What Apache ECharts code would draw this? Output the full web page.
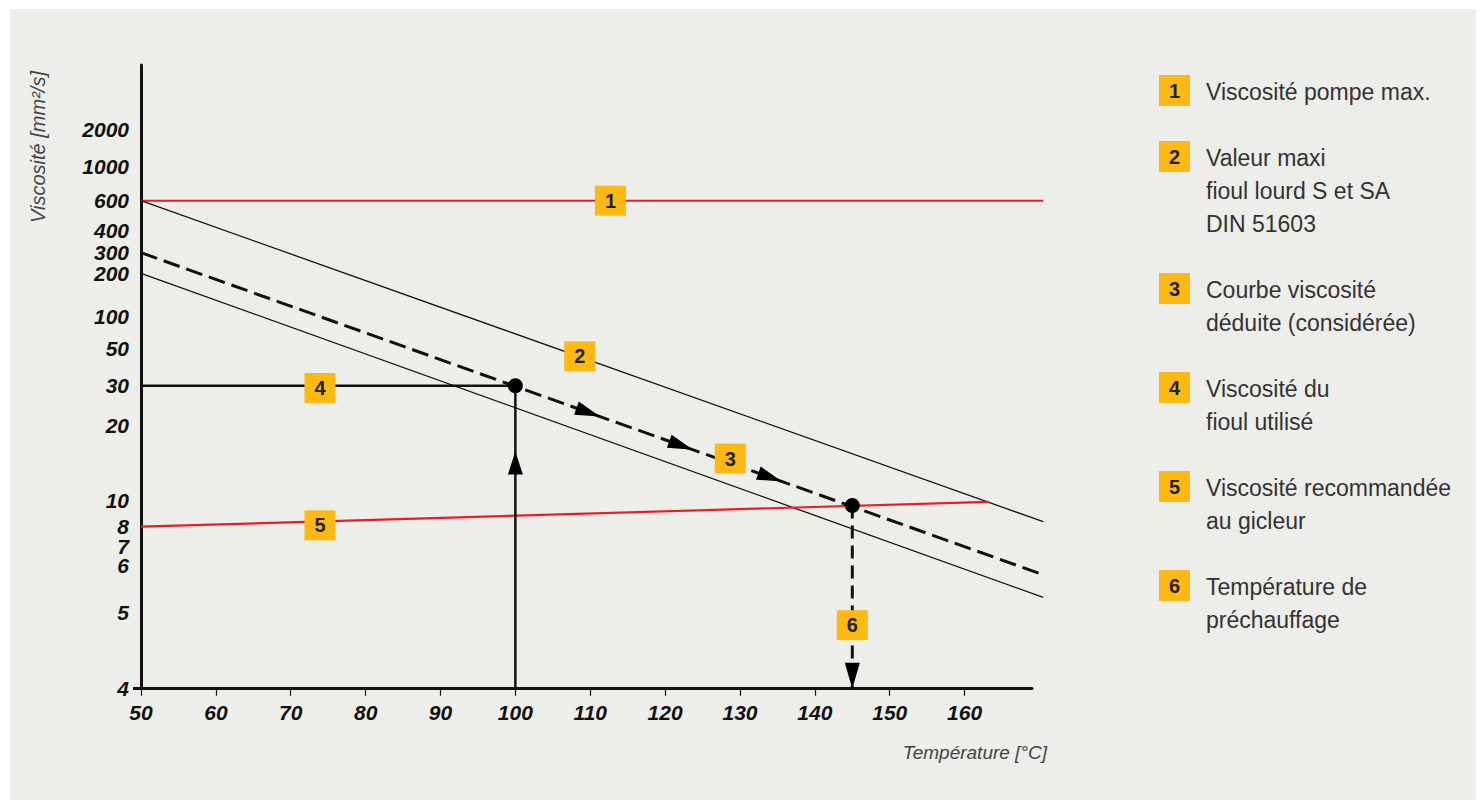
<!DOCTYPE html>
<html><head><meta charset="utf-8">
<script src="https://cdn.jsdelivr.net/npm/echarts@6/dist/echarts.min.js"></script>
<style>
html,body{margin:0;padding:0;background:#fff;width:1483px;height:803px;overflow:hidden}
#panel{position:absolute;left:10px;top:9px;width:1466px;height:791px;background:#EDEDE9}
#chart{position:absolute;left:0;top:0;width:1483px;height:803px}
</style></head><body>
<div id="panel"></div><div id="chart"></div>
<script>
// ---------- DATA ----------
const temperatureTicks = [50, 60, 70, 80, 90, 100, 110, 120, 130, 140, 150, 160];
const viscosityTicks = [4, 5, 6, 7, 8, 10, 20, 30, 50, 100, 200, 300, 400, 600, 1000, 2000];
// printed (irregular) viscosity scale: axis units of each tick label
const viscosityScale = [0, 76, 123.7, 142.7, 162, 188, 263.7, 303, 340.4, 372, 415.4, 436, 458.7, 488, 522.7, 559.7];
const viscosityScaleTop = 623.7;

// 1 pump max viscosity
const pumpMaxTemp = [50, 170.5];
const pumpMaxVisc = [600, 600];
// 2 max value heavy fuel oil
const fuelMaxTemp = [50, 170.5];
const fuelMaxVisc = [600, 8.35];
// lower thin line
const fuelMinTemp = [50, 170.5];
const fuelMinVisc = [200, 5.3];
// 3 deduced viscosity curve
const curve3Temp = [50, 170.5];
const curve3Visc = [300, 5.78];
const curve3ArrowTemps = [111.3, 123.7, 135.6];
// 4 viscosity of fuel used
const usedTemp = [50, 100];
const usedVisc = [30, 30];
const usedVertTemp = [100, 100];
const usedVertVisc = [4, 30];
const upArrowTemp = 100, upArrowVisc = 15.7;
// 5 recommended nozzle viscosity
const nozzleTemp = [50, 163.2];
const nozzleVisc = [8, 9.9];
// 6 preheating temperature
const preheatTemp = [145, 145];
const preheatVisc = [9.6, 4];
const downArrowTemp = 145, downArrowVisc = 4;
// points
const pointTemp = [100, 145];
const pointVisc = [30, 9.6];
// numbered markers
const markerNumbers = ['1', '2', '3', '4', '5', '6'];
const markerTemp = [112.7, 108.6, 128.7, 73.9, 73.9, 145];
const markerVisc = [600, 44.8, 14.7, 29.3, 8.1, 4.82];
// legend
const legendNumbers = ['1', '2', '3', '4', '5', '6'];
const legendTexts = [
  ['Viscosité pompe max.'],
  ['Valeur maxi', 'fioul lourd S et SA', 'DIN 51603'],
  ['Courbe viscosité', 'déduite (considérée)'],
  ['Viscosité du', 'fioul utilisé'],
  ['Viscosité recommandée', 'au gicleur'],
  ['Température de', 'préchauffage']
];
const xAxisName = 'Température [°C]';
const yAxisName = 'Viscosité [mm²/s]';

// ---------- SCALE ----------
function toScale(v) {
  const t = viscosityTicks, s = viscosityScale;
  let i = 0;
  while (i < t.length - 2 && v > t[i + 1]) i++;
  const f = Math.log(v / t[i]) / Math.log(t[i + 1] / t[i]);
  return s[i] + f * (s[i + 1] - s[i]);
}
function pts(xs, vs) { return xs.map((x, i) => [x, toScale(vs[i])]); }

const YELLOW = '#FDB913', RED = '#EC1C24', BLACK = '#111';
const FONT = '"Liberation Sans", Arial, sans-serif';

// straight segment drawn through the cartesian scales (not clipped at axis end)
function segSeries(xs, vs, color, width, dash) {
  return {
    type: 'custom', coordinateSystem: 'cartesian2d', silent: true, clip: false, z: 3,
    data: [[xs[0], toScale(vs[0]), xs[1], toScale(vs[1])]],
    encode: { x: [0, 2], y: [1, 3] },
    renderItem: function (params, api) {
      const p1 = api.coord([api.value(0), api.value(1)]);
      const p2 = api.coord([api.value(2), api.value(3)]);
      return {
        type: 'line',
        shape: { x1: p1[0], y1: p1[1], x2: p2[0], y2: p2[1] },
        style: { stroke: color, lineWidth: width, lineDash: dash || null, lineCap: 'butt', fill: null }
      };
    }
  };
}

const chart = echarts.init(document.getElementById('chart'), null, { renderer: 'svg' });

// legend graphics
const legendGraphics = [];
let legendTop = 75;
legendNumbers.forEach((n, i) => {
  legendGraphics.push({
    type: 'rect', x: 1159, y: legendTop, shape: { width: 31, height: 31 }, style: { fill: YELLOW }
  });
  legendGraphics.push({
    type: 'text', x: 1174.5, y: legendTop + 16, style: {
      text: n, fill: '#222', font: 'bold 20px ' + FONT,
      textAlign: 'center', textVerticalAlign: 'middle'
    }
  });
  legendTexts[i].forEach((line, j) => {
    legendGraphics.push({
      type: 'text', x: 1206, y: legendTop + 17 + j * 33, style: {
        text: line, fill: '#333', font: '23px ' + FONT,
        textAlign: 'left', textVerticalAlign: 'middle'
      }
    });
  });
  legendTop += legendTexts[i].length * 33 + 33;
});

const option = {
  backgroundColor: 'transparent',
  animation: false,
  grid: { left: 141, top: 65, right: 451, bottom: 114.3, containLabel: false },
  xAxis: {
    type: 'value', min: 50, max: 169,
    axisLine: { show: true, lineStyle: { color: BLACK, width: 3 } },
    axisTick: { show: true, customValues: temperatureTicks, length: 7, lineStyle: { color: BLACK, width: 1.2 } },
    axisLabel: {
      customValues: temperatureTicks, margin: 13, color: BLACK,
      fontSize: 21, fontWeight: 'bold', fontStyle: 'italic', fontFamily: FONT
    },
    splitLine: { show: false }
  },
  yAxis: {
    type: 'value', min: 0, max: viscosityScaleTop,
    axisLine: { show: true, lineStyle: { color: BLACK, width: 3 } },
    axisTick: { show: true, customValues: [0], length: 8, lineStyle: { color: BLACK, width: 3 } },
    axisLabel: {
      customValues: viscosityScale, margin: 12, color: BLACK, lineHeight: 18,
      fontSize: 21, fontWeight: 'bold', fontStyle: 'italic', fontFamily: FONT,
      formatter: function (val) {
        let best = 0;
        viscosityScale.forEach((s, i) => { if (Math.abs(s - val) < Math.abs(viscosityScale[best] - val)) best = i; });
        return String(viscosityTicks[best]);
      }
    },
    splitLine: { show: false }
  },
  graphic: [
    {
      type: 'text', x: 37.5, y: 147, rotation: Math.PI / 2, style: {
        text: yAxisName, fill: '#444', font: 'italic 20px ' + FONT,
        textAlign: 'center', textVerticalAlign: 'middle'
      }
    },
    {
      type: 'text', x: 1047, y: 752, style: {
        text: xAxisName, fill: '#444', font: 'italic 19px ' + FONT,
        textAlign: 'right', textVerticalAlign: 'middle'
      }
    }
  ].concat(legendGraphics),
  series: [
    segSeries(pumpMaxTemp, pumpMaxVisc, RED, 2),
    segSeries(fuelMaxTemp, fuelMaxVisc, BLACK, 1.3),
    segSeries(fuelMinTemp, fuelMinVisc, BLACK, 1.3),
    segSeries(nozzleTemp, nozzleVisc, RED, 2.2),
    segSeries(curve3Temp, curve3Visc, BLACK, 3, [17, 7]),
    segSeries(usedTemp, usedVisc, BLACK, 2.5),
    segSeries(usedVertTemp, usedVertVisc, BLACK, 2.5),
    segSeries(preheatTemp, preheatVisc, BLACK, 3, [13, 7]),
    {
      type: 'custom', coordinateSystem: 'cartesian2d', silent: true, z: 4, clip: false,
      data: curve3ArrowTemps.map(t => [t, 0]),
      renderItem: function (params, api) {
        const a = api.coord([curve3Temp[0], toScale(curve3Visc[0])]);
        const b = api.coord([curve3Temp[1], toScale(curve3Visc[1])]);
        const tipX = api.coord([api.value(0), 0])[0];
        const k = (tipX - a[0]) / (b[0] - a[0]);
        const tip = [a[0] + k * (b[0] - a[0]), a[1] + k * (b[1] - a[1])];
        const len = Math.hypot(b[0] - a[0], b[1] - a[1]);
        const d = [(b[0] - a[0]) / len, (b[1] - a[1]) / len];
        const n = [-d[1], d[0]];
        const L = 25, W = 14;
        const base = [tip[0] - d[0] * L, tip[1] - d[1] * L];
        return {
          type: 'polygon',
          shape: { points: [tip, [base[0] + n[0] * W / 2, base[1] + n[1] * W / 2], [base[0] - n[0] * W / 2, base[1] - n[1] * W / 2]] },
          style: { fill: '#000' }
        };
      }
    },
    {
      type: 'custom', coordinateSystem: 'cartesian2d', silent: true, z: 4, clip: false,
      data: [[upArrowTemp, toScale(upArrowVisc), 1], [downArrowTemp, toScale(downArrowVisc), -1]],
      renderItem: function (params, api) {
        const tip = api.coord([api.value(0), api.value(1)]);
        const dir = api.value(2);
        const L = dir > 0 ? 23 : 26, W = 15;
        const by = tip[1] + dir * L;
        return {
          type: 'polygon',
          shape: { points: [tip, [tip[0] - W / 2, by], [tip[0] + W / 2, by]] },
          style: { fill: '#000' }
        };
      }
    },
    {
      type: 'scatter', silent: true, z: 5, symbol: 'circle', symbolSize: 15,
      itemStyle: { color: '#000', opacity: 1 },
      data: pts(pointTemp, pointVisc)
    },
    {
      type: 'scatter', silent: true, z: 6, symbol: 'rect', symbolSize: [31, 30],
      itemStyle: { color: YELLOW, opacity: 1 },
      label: {
        show: true, position: 'inside', color: '#222', fontSize: 20, fontWeight: 'bold',
        fontFamily: FONT,
        formatter: p => markerNumbers[p.dataIndex]
      },
      data: pts(markerTemp, markerVisc)
    }
  ]
};
chart.setOption(option);
</script>
</body></html>
